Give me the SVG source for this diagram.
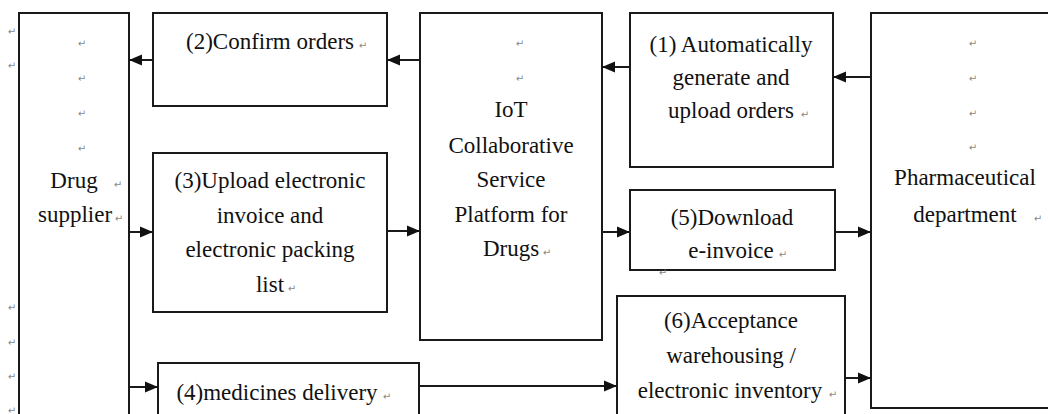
<svg xmlns="http://www.w3.org/2000/svg" width="1048" height="414" viewBox="0 0 1048 414">
<style>
.box{fill:#fff;stroke:#1a1a1a;stroke-width:2}
.t{font-family:"Liberation Serif","Times New Roman",serif;font-size:23px;fill:#111;text-anchor:middle}
.pm{font-family:"DejaVu Sans",sans-serif;font-size:10px;fill:#888;text-anchor:middle}
.c{fill:none;stroke:#1a1a1a;stroke-width:2}
</style>
<defs>
<marker id="ah" markerUnits="userSpaceOnUse" markerWidth="14" markerHeight="12" refX="13" refY="6" orient="auto">
<path d="M0,0.5 L13,6 L0,11.5 z" fill="#111"/>
</marker>
</defs>
<rect width="1048" height="414" fill="#fff"/>

<g id="margin-marks">
<text class="pm" x="12" y="35">↵</text>
<text class="pm" x="12" y="69">↵</text>
<text class="pm" x="12" y="311">↵</text>
<text class="pm" x="12" y="346">↵</text>
<text class="pm" x="12" y="380">↵</text>
<text class="pm" x="12" y="414">↵</text>
</g>

<g id="drug-supplier">
<rect class="box" x="19" y="13" width="110" height="420"/>
<text class="pm" x="82" y="47">↵</text>
<text class="pm" x="82" y="82">↵</text>
<text class="pm" x="82" y="117">↵</text>
<text class="pm" x="82" y="152">↵</text>
<text class="t" x="74" y="188">Drug</text>
<text class="pm" x="118" y="188">↵</text>
<text class="t" x="75" y="222">supplier</text>
<text class="pm" x="119" y="222">↵</text>
</g>

<g id="confirm-orders">
<rect class="box" x="153" y="13" width="234" height="93"/>
<text class="t" x="270" y="49">(2)Confirm orders</text>
<text class="pm" x="363" y="49">↵</text>
</g>

<g id="upload-invoice">
<rect class="box" x="153" y="153" width="234" height="159"/>
<text class="t" x="270" y="188">(3)Upload electronic</text>
<text class="t" x="270" y="223">invoice and</text>
<text class="t" x="270" y="257">electronic packing</text>
<text class="t" x="270" y="292">list</text>
<text class="pm" x="292" y="292">↵</text>
</g>

<g id="medicines-delivery">
<rect class="box" x="158" y="363" width="261" height="70"/>
<text class="t" x="277" y="400">(4)medicines delivery</text>
<text class="pm" x="387" y="400">↵</text>
</g>

<g id="iot-platform">
<rect class="box" x="420" y="13" width="182" height="327"/>
<text class="pm" x="520" y="47">↵</text>
<text class="pm" x="520" y="82">↵</text>
<text class="t" x="511" y="117">IoT</text>
<text class="t" x="511" y="153">Collaborative</text>
<text class="t" x="511" y="187">Service</text>
<text class="t" x="511" y="222">Platform for</text>
<text class="t" x="511" y="256">Drugs</text>
<text class="pm" x="547" y="256">↵</text>
</g>

<g id="generate-orders">
<rect class="box" x="630" y="13" width="203" height="154"/>
<text class="t" x="731" y="52">(1) Automatically</text>
<text class="t" x="731" y="85">generate and</text>
<text class="t" x="731" y="118">upload orders</text>
<text class="pm" x="805" y="118">↵</text>
</g>

<g id="download-invoice">
<rect class="box" x="630" y="190" width="205" height="80"/>
<text class="t" x="732" y="225">(5)Download</text>
<text class="t" x="731" y="258">e-invoice</text>
<text class="pm" x="783" y="258">↵</text>
<text class="pm" x="663" y="276">↵</text>
</g>

<g id="acceptance">
<rect class="box" x="617" y="296" width="228" height="137"/>
<text class="t" x="731" y="328">(6)Acceptance</text>
<text class="t" x="731" y="363">warehousing /</text>
<text class="t" x="730" y="398">electronic inventory</text>
<text class="pm" x="833" y="398">↵</text>
</g>

<g id="pharmaceutical-department">
<rect class="box" x="871" y="13" width="200" height="395"/>
<text class="pm" x="973" y="47">↵</text>
<text class="pm" x="973" y="82">↵</text>
<text class="pm" x="973" y="117">↵</text>
<text class="pm" x="973" y="151">↵</text>
<text class="t" x="965" y="185">Pharmaceutical</text>
<text class="t" x="965" y="222">department</text>
<text class="pm" x="1038" y="222">↵</text>
</g>

<g id="connectors">
<path class="c" d="M871,77 H833" marker-end="url(#ah)"/>
<path class="c" d="M630,67 H602" marker-end="url(#ah)"/>
<path class="c" d="M420,60 H387" marker-end="url(#ah)"/>
<path class="c" d="M153,60 H129" marker-end="url(#ah)"/>
<path class="c" d="M129,232 H153" marker-end="url(#ah)"/>
<path class="c" d="M387,231 H420" marker-end="url(#ah)"/>
<path class="c" d="M602,232 H630" marker-end="url(#ah)"/>
<path class="c" d="M835,232 H871" marker-end="url(#ah)"/>
<path class="c" d="M129,387 H158" marker-end="url(#ah)"/>
<path class="c" d="M419,386 H617" marker-end="url(#ah)"/>
<path class="c" d="M845,378 H871" marker-end="url(#ah)"/>
</g>
</svg>
